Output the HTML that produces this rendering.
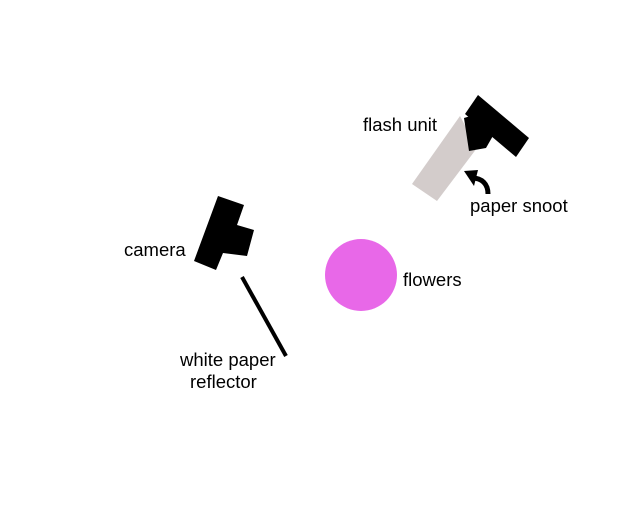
<!DOCTYPE html>
<html><head><style>
html,body{margin:0;padding:0;background:#fff;}
svg{display:block;}
text{font-family:"Liberation Sans",Arial,sans-serif;font-size:18.5px;fill:#000;}
</style></head><body>
<svg width="640" height="524" viewBox="0 0 640 524" xmlns="http://www.w3.org/2000/svg">
<rect width="640" height="524" fill="#fff"/>
<polygon points="460,116 477,148 437,201 412,184" fill="#d3cccb"/>
<polygon points="478,95 529,138 516,157 465,114" fill="#000"/>
<polygon points="464,118 490,110 494,134 486,148 469,151" fill="#000"/>
<path d="M488,194 C488,184 482,178 472,178" stroke="#000" stroke-width="5" fill="none"/>
<polygon points="464,171 478,170 474,186" fill="#000"/>
<polygon points="218,196 244,205 237,225 254,230 247,256 223,253 216,270 194,261" fill="#000"/>
<line x1="242" y1="277" x2="286" y2="356" stroke="#000" stroke-width="4"/>
<circle cx="361" cy="275" r="36" fill="#e868e8"/>
<text x="363" y="131">flash unit</text>
<text x="470" y="212">paper snoot</text>
<text x="124" y="256">camera</text>
<text x="403" y="286">flowers</text>
<text x="180" y="366">white paper</text>
<text x="190" y="388">reflector</text>
</svg>
</body></html>
